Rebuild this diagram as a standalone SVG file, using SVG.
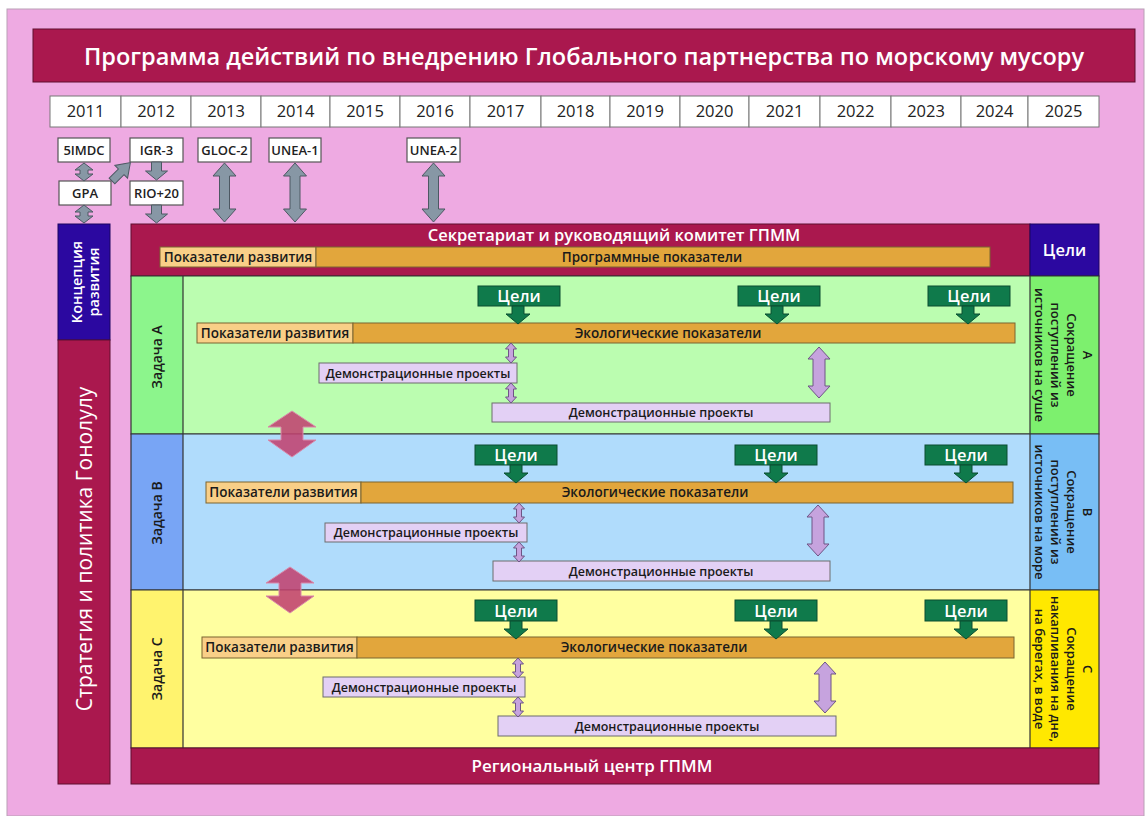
<svg xmlns="http://www.w3.org/2000/svg" xmlns:xlink="http://www.w3.org/1999/xlink" width="1146" height="816" viewBox="0 0 1146 816">
<defs>
<style>
text{font-family:'Open Sans','Liberation Sans',sans-serif}
.crim{fill:#aa184e;stroke:#5e0f2e;stroke-width:1}
.yr{fill:#fff;stroke:#777;stroke-width:1}
.yt{font-size:16.5px;fill:#222;text-anchor:middle}
.sb{fill:#fff;stroke:#555;stroke-width:1.2}
.st{font-size:13px;font-weight:600;fill:#222;text-anchor:middle}
.gray{fill:#8797a5;stroke:#4d5863;stroke-width:1}
.wt{fill:#fff;font-weight:600;text-anchor:middle}
.lo{fill:#f9cf87;stroke:#7a6430;stroke-width:1}
.or{fill:#e2a63c;stroke:#7a6430;stroke-width:1}
.lp{fill:#e3d0f5;stroke:#6d6d6d;stroke-width:1}
.gr{fill:#0f7a4b;stroke:#0a4d30;stroke-width:1}
.pa{fill:#c6a3de;stroke:#6e5585;stroke-width:1}
.ca{fill:#c0426f;fill-opacity:0.88;stroke:#d98aaa;stroke-width:1}
.bt{font-size:13.5px;font-weight:600;fill:#1a1a1a;text-anchor:middle}
.dt{font-size:12.5px;font-weight:600;fill:#1a1a1a;text-anchor:middle}
.zt{font-size:14px;font-weight:600;fill:#1a1a1a;text-anchor:middle}
.rt{font-size:13px;font-weight:600;fill:#1a1a1a;text-anchor:middle}
.ln{stroke:#333;stroke-width:1.2;fill:none}
</style>
<path id="garrow" d="M-6,0 L6,0 L6,8 L12,8 L0,18 L-12,8 L-6,8 Z"/>
<path id="psmall" d="M0,0 L5.5,6 L2.5,6 L2.5,14 L5.5,14 L0,20 L-5.5,14 L-2.5,14 L-2.5,6 L-5.5,6 Z"/>
<path id="pbig" d="M0,0 L11,12 L6,12 L6,39 L11,39 L0,51 L-11,39 L-6,39 L-6,12 L-11,12 Z"/>
<path id="cbig" d="M0,0 L24,16 L11,16 L11,29 L24,29 L0,46 L-24,29 L-11,29 L-11,16 L-24,16 Z"/>
<path id="gdbl" d="M0,0 L11.5,13 L5,13 L5,46 L11.5,46 L0,59 L-11.5,46 L-5,46 L-5,13 L-11.5,13 Z"/>
<path id="gsmall" d="M0,0 L9,7 L4,7 L4,11 L9,11 L0,18 L-9,11 L-4,11 L-4,7 L-9,7 Z"/>
<path id="gdown" d="M-5,0 L5,0 L5,9 L11,9 L0,18 L-11,9 L-5,9 Z"/>
</defs>

<g id="background">
<rect x="0" y="0" width="1146" height="816" fill="#ffffff"/>
<rect x="7" y="9" width="1137" height="807" fill="#eeaae2" stroke="#b9a0b5" stroke-width="1"/>
</g>

<g id="title">
<rect class="crim" x="33" y="29" width="1102" height="53"/>
<text class="wt" x="584" y="65" font-size="23" textLength="1000" lengthAdjust="spacingAndGlyphs">Программа действий по внедрению Глобального партнерства по морскому мусору</text>
</g>

<g id="years">
<rect class="yr" x="50" y="96" width="71" height="31"/><text class="yt" x="85.5" y="117">2011</text>
<rect class="yr" x="121" y="96" width="70" height="31"/><text class="yt" x="156" y="117">2012</text>
<rect class="yr" x="191" y="96" width="70" height="31"/><text class="yt" x="226" y="117">2013</text>
<rect class="yr" x="261" y="96" width="69" height="31"/><text class="yt" x="295.5" y="117">2014</text>
<rect class="yr" x="330" y="96" width="70" height="31"/><text class="yt" x="365" y="117">2015</text>
<rect class="yr" x="400" y="96" width="70" height="31"/><text class="yt" x="435" y="117">2016</text>
<rect class="yr" x="470" y="96" width="71" height="31"/><text class="yt" x="505.5" y="117">2017</text>
<rect class="yr" x="541" y="96" width="69" height="31"/><text class="yt" x="575.5" y="117">2018</text>
<rect class="yr" x="610" y="96" width="70" height="31"/><text class="yt" x="645" y="117">2019</text>
<rect class="yr" x="680" y="96" width="69" height="31"/><text class="yt" x="714.5" y="117">2020</text>
<rect class="yr" x="749" y="96" width="71" height="31"/><text class="yt" x="784.5" y="117">2021</text>
<rect class="yr" x="820" y="96" width="71" height="31"/><text class="yt" x="855.5" y="117">2022</text>
<rect class="yr" x="891" y="96" width="70" height="31"/><text class="yt" x="926" y="117">2023</text>
<rect class="yr" x="961" y="96" width="67" height="31"/><text class="yt" x="994.5" y="117">2024</text>
<rect class="yr" x="1028" y="96" width="71" height="31"/><text class="yt" x="1063.5" y="117">2025</text>
</g>

<g id="node-5IMDC"><rect class="sb" x="58" y="138" width="52" height="24"/><text class="st" x="84" y="154.5">5IMDC</text></g>
<g id="node-IGR3"><rect class="sb" x="130" y="138" width="53" height="24"/><text class="st" x="156.5" y="154.5">IGR-3</text></g>
<g id="node-GLOC2"><rect class="sb" x="198" y="138" width="53" height="24"/><text class="st" x="224.5" y="154.5">GLOC-2</text></g>
<g id="node-UNEA1"><rect class="sb" x="269" y="138" width="52" height="24"/><text class="st" x="295" y="154.5">UNEA-1</text></g>
<g id="node-UNEA2"><rect class="sb" x="407" y="138" width="53" height="24"/><text class="st" x="433.5" y="154.5">UNEA-2</text></g>
<g id="node-GPA"><rect class="sb" x="59" y="181" width="52" height="24"/><text class="st" x="85" y="197.5">GPA</text></g>
<g id="node-RIO20"><rect class="sb" x="130" y="181" width="53" height="24"/><text class="st" x="156.5" y="197.5">RIO+20</text></g>

<g id="node-koncepciya">
<rect x="58" y="224" width="52" height="116" fill="#2b08a0" stroke="#1a0560" stroke-width="1"/>
<text class="wt" font-size="14.5" transform="translate(84,282) rotate(-90)"><tspan x="0" y="-2">Концепция</tspan><tspan x="0" y="15">развития</tspan></text>
</g>

<g id="node-strategiya">
<rect class="crim" x="58" y="340" width="52" height="444"/>
<text fill="#fff" font-size="21" text-anchor="middle" transform="translate(84,549) rotate(-90)" y="7.5">Стратегия и политика Гонолулу</text>
</g>

<g id="node-sekretariat">
<rect class="crim" x="131" y="224" width="899" height="52"/>
<text class="wt" font-size="16.5" x="614" y="241">Секретариат и руководящий комитет ГПММ</text>
<rect class="lo" x="160" y="247" width="156" height="20"/><text class="bt" x="238" y="261.7">Показатели развития</text>
<rect class="or" x="316" y="247" width="674" height="20"/><text class="bt" x="652" y="261.7">Программные показатели</text>
</g>

<g id="node-celi-top">
<rect x="1030" y="224" width="69" height="52" fill="#2b08a0" stroke="#1a0560" stroke-width="1"/>
<text class="wt" font-size="16.5" x="1064.5" y="256">Цели</text>
</g>

<g id="section-A">
<rect x="183" y="276" width="847" height="158" fill="#bbfdb0"/>
<rect x="131" y="276" width="52" height="158" fill="#8cf58c"/>
<rect x="1030" y="276" width="69" height="158" fill="#7df06e"/>
<path class="ln" d="M131,276 H1099 V434 H131 Z M183,276 V434 M1030,276 V434"/>
<text class="zt" transform="translate(157,357) rotate(-90)" y="5">Задача A</text>
<text class="rt" transform="translate(1064,355) rotate(90)"><tspan x="0" y="-19.4">A</tspan><tspan x="0" y="-3.4">Сокращение</tspan><tspan x="0" y="12.6">поступлений из</tspan><tspan x="0" y="28.6">источников на суше</tspan></text>
</g>

<g id="section-B">
<rect x="183" y="434" width="847" height="156" fill="#b0dcfc"/>
<rect x="131" y="434" width="52" height="156" fill="#78a5f5"/>
<rect x="1030" y="434" width="69" height="156" fill="#78bef5"/>
<path class="ln" d="M131,434 H1099 V590 H131 Z M183,434 V590 M1030,434 V590"/>
<text class="zt" transform="translate(157,513) rotate(-90)" y="5">Задача B</text>
<text class="rt" transform="translate(1064,512) rotate(90)"><tspan x="0" y="-19.4">B</tspan><tspan x="0" y="-3.4">Сокращение</tspan><tspan x="0" y="12.6">поступлений из</tspan><tspan x="0" y="28.6">источников на море</tspan></text>
</g>

<g id="section-C">
<rect x="183" y="590" width="847" height="158" fill="#ffffa0"/>
<rect x="131" y="590" width="52" height="158" fill="#fff36e"/>
<rect x="1030" y="590" width="69" height="158" fill="#ffe800"/>
<path class="ln" d="M131,590 H1099 V748 H131 Z M183,590 V748 M1030,590 V748"/>
<text class="zt" transform="translate(157,669) rotate(-90)" y="5">Задача C</text>
<text class="rt" transform="translate(1064,669) rotate(90)"><tspan x="0" y="-19.4">C</tspan><tspan x="0" y="-3.4">Сокращение</tspan><tspan x="0" y="12.6">накапливания на дне,</tspan><tspan x="0" y="28.6">на берегах, в воде</tspan></text>
</g>

<g id="node-region">
<rect class="crim" x="131" y="748" width="968" height="36"/>
<text class="wt" font-size="17" x="592" y="772">Региональный центр ГПММ</text>
</g>

<g id="A-items">
<g id="A-celi-1"><rect class="gr" x="478" y="286" width="82" height="20"/><text class="wt" font-size="16.5" x="519" y="302">Цели</text></g>
<g id="A-celi-2"><rect class="gr" x="738" y="286" width="82" height="20"/><text class="wt" font-size="16.5" x="779" y="302">Цели</text></g>
<g id="A-celi-3"><rect class="gr" x="928" y="286" width="82" height="20"/><text class="wt" font-size="16.5" x="969" y="302">Цели</text></g>
<g id="A-pokazateli"><rect class="lo" x="197" y="323" width="156" height="20"/><text class="bt" x="275" y="337.8">Показатели развития</text></g>
<g id="A-eko"><rect class="or" x="353" y="323" width="662" height="20"/><text class="bt" x="668" y="337.8">Экологические показатели</text></g>
<g id="A-demo-1"><rect class="lp" x="319" y="363" width="198" height="20"/><text class="dt" x="418" y="377.5">Демонстрационные проекты</text></g>
<g id="A-demo-2"><rect class="lp" x="492" y="403" width="338" height="19"/><text class="dt" x="661" y="417">Демонстрационные проекты</text></g>
</g>

<g id="B-items">
<g id="B-celi-1"><rect class="gr" x="475" y="445" width="82" height="20"/><text class="wt" font-size="16.5" x="516" y="461">Цели</text></g>
<g id="B-celi-2"><rect class="gr" x="735" y="445" width="82" height="20"/><text class="wt" font-size="16.5" x="776" y="461">Цели</text></g>
<g id="B-celi-3"><rect class="gr" x="925" y="445" width="82" height="20"/><text class="wt" font-size="16.5" x="966" y="461">Цели</text></g>
<g id="B-pokazateli"><rect class="lo" x="206" y="482" width="155" height="21"/><text class="bt" x="283.5" y="497.2">Показатели развития</text></g>
<g id="B-eko"><rect class="or" x="361" y="482" width="652" height="21"/><text class="bt" x="655" y="497.2">Экологические показатели</text></g>
<g id="B-demo-1"><rect class="lp" x="325" y="523" width="202" height="19"/><text class="dt" x="426" y="537">Демонстрационные проекты</text></g>
<g id="B-demo-2"><rect class="lp" x="493" y="561" width="337" height="20"/><text class="dt" x="661" y="575.5">Демонстрационные проекты</text></g>
</g>

<g id="C-items">
<g id="C-celi-1"><rect class="gr" x="475" y="600" width="82" height="21"/><text class="wt" font-size="16.5" x="516" y="616.5">Цели</text></g>
<g id="C-celi-2"><rect class="gr" x="735" y="600" width="82" height="21"/><text class="wt" font-size="16.5" x="776" y="616.5">Цели</text></g>
<g id="C-celi-3"><rect class="gr" x="925" y="600" width="82" height="21"/><text class="wt" font-size="16.5" x="966" y="616.5">Цели</text></g>
<g id="C-pokazateli"><rect class="lo" x="202" y="637" width="155" height="21"/><text class="bt" x="279.5" y="652.2">Показатели развития</text></g>
<g id="C-eko"><rect class="or" x="357" y="637" width="657" height="21"/><text class="bt" x="654" y="652.2">Экологические показатели</text></g>
<g id="C-demo-1"><rect class="lp" x="323" y="677" width="202" height="20"/><text class="dt" x="424" y="691.5">Демонстрационные проекты</text></g>
<g id="C-demo-2"><rect class="lp" x="498" y="716" width="338" height="20"/><text class="dt" x="667" y="730.5">Демонстрационные проекты</text></g>
</g>

<g id="connectors">
<use href="#gsmall" class="gray" x="84" y="163"/>
<use href="#gsmall" class="gray" x="84" y="205"/>
<use href="#gdown" class="gray" x="156.5" y="162"/>
<use href="#gdown" class="gray" x="156.5" y="205"/>
<path class="gray" transform="translate(112,181) rotate(-45)" d="M0,-4 L13,-4 L13,-9 L26,0 L13,9 L13,4 L0,4 Z"/>
<use href="#gdbl" class="gray" x="224.5" y="163"/>
<use href="#gdbl" class="gray" x="295" y="163"/>
<use href="#gdbl" class="gray" x="433.5" y="163"/>

<use href="#garrow" class="gr" x="518" y="306"/>
<use href="#garrow" class="gr" x="777" y="306"/>
<use href="#garrow" class="gr" x="968" y="306"/>
<use href="#garrow" class="gr" x="516" y="465"/>
<use href="#garrow" class="gr" x="776" y="465"/>
<use href="#garrow" class="gr" x="966" y="465"/>
<use href="#garrow" class="gr" x="516" y="621"/>
<use href="#garrow" class="gr" x="776" y="621"/>
<use href="#garrow" class="gr" x="966" y="621"/>

<use href="#psmall" class="pa" x="511" y="343"/>
<use href="#psmall" class="pa" x="511" y="383"/>
<use href="#psmall" class="pa" x="519" y="503"/>
<use href="#psmall" class="pa" x="519" y="542"/>
<use href="#psmall" class="pa" x="518" y="658"/>
<use href="#psmall" class="pa" x="518" y="697"/>

<use href="#pbig" class="pa" x="819" y="347"/>
<use href="#pbig" class="pa" x="818" y="505"/>
<use href="#pbig" class="pa" x="825" y="662"/>

<use href="#cbig" class="ca" x="292" y="411"/>
<use href="#cbig" class="ca" x="290" y="567"/>
</g>
</svg>
